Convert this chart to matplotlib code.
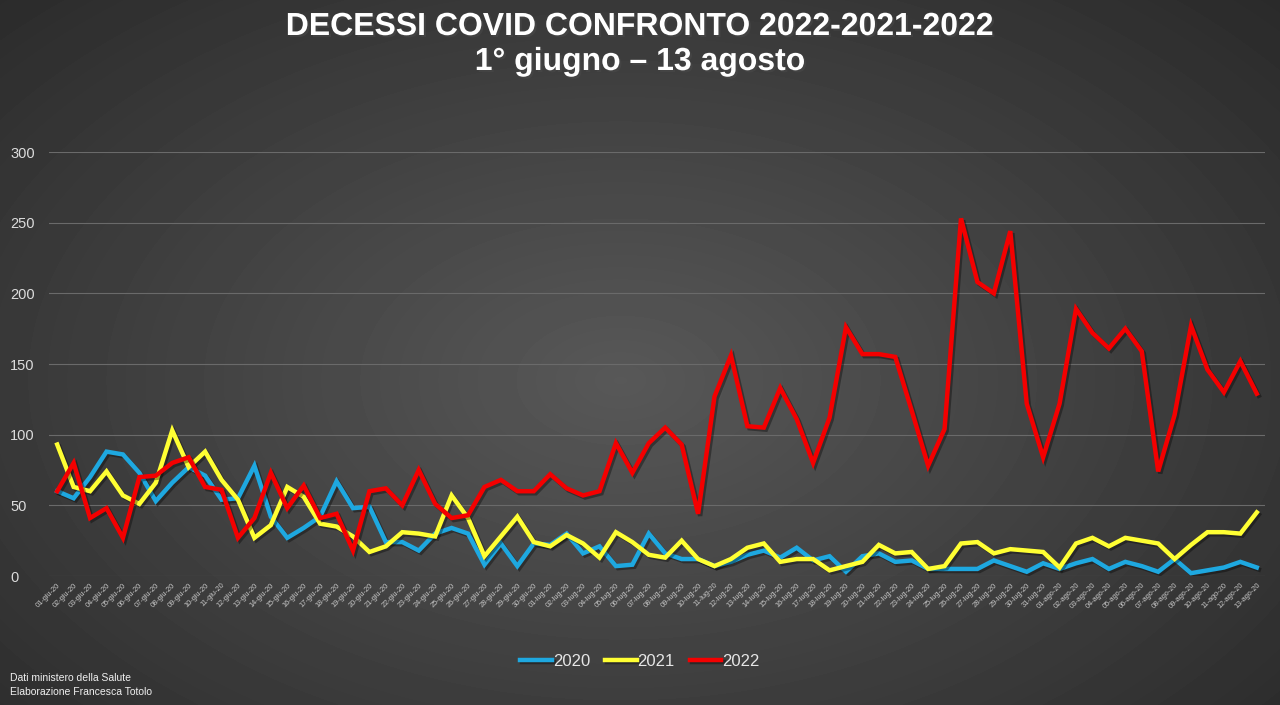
import matplotlib.pyplot as plt
import matplotlib.patheffects as pe
import numpy as np
import pandas as pd

# decessi giornalieri 1 giugno - 13 agosto
morti_2020 = [60, 55, 70, 88, 86, 73, 53, 66, 77, 71, 54, 55, 78, 42, 27, 34, 42, 67, 48, 49,
              24, 24, 18, 30, 34, 30, 8, 23, 7, 23, 22, 30, 16, 21, 7, 8, 30, 16, 12, 12,
              7, 10, 15, 18, 13, 20, 11, 14, 3, 14, 16, 10, 11, 5, 5, 5, 5, 11, 7, 3,
              9, 5, 9, 12, 5, 10, 7, 3, 12, 2, 4, 6, 10, 6]
morti_2021 = [93, 63, 60, 74, 57, 51, 66, 103, 77, 88, 68, 54, 27, 36, 63, 56, 37, 35, 28, 17,
              21, 31, 30, 28, 57, 41, 14, 28, 42, 24, 21, 29, 23, 13, 31, 24, 15, 13, 25, 12,
              7, 12, 20, 23, 10, 12, 12, 4, 7, 10, 22, 16, 17, 5, 7, 23, 24, 16, 19, 18,
              17, 6, 23, 27, 21, 27, 25, 23, 12, 22, 31, 31, 30, 45]
morti_2022 = [60, 80, 41, 48, 27, 70, 71, 80, 84, 63, 61, 27, 41, 73, 48, 64, 41, 44, 18, 60,
              62, 50, 75, 51, 41, 43, 63, 68, 60, 60, 72, 62, 57, 60, 94, 73, 94, 105, 93, 44,
              127, 156, 106, 105, 133, 111, 80, 112, 176, 157, 157, 155, 117, 78, 104, 253, 208, 200, 244, 122,
              84, 122, 189, 172, 161, 175, 159, 74, 114, 177, 146, 130, 152, 129]

mesi = {6: 'giu', 7: 'lug', 8: 'ago'}
giorni = pd.date_range('2020-06-01', '2020-08-13')
etichette = [f"{d.day:02d}-{mesi[d.month]}-20" for d in giorni]

serie = [('2020', morti_2020, '#1ea8e0'),
         ('2021', morti_2021, '#ffff33'),
         ('2022', morti_2022, '#f40000')]

plt.rcParams['font.family'] = ['Liberation Sans', 'DejaVu Sans']

fig = plt.figure(figsize=(12.8, 7.05), dpi=100)

# sfondo grigio sfumato
bg = fig.add_axes([0, 0, 1, 1])
yy, xx = np.mgrid[0:705, 0:1280]
r = np.sqrt(((xx - 620) / 900.0) ** 2 + ((yy - 380) / 560.0) ** 2)
grigio = np.clip(0.345 - 0.18 * r, 0.16, 0.345)
bg.imshow(grigio, cmap='gray', vmin=0, vmax=1, aspect='auto', interpolation='bilinear')
bg.axis('off')

ax = fig.add_axes([49 / 1280, 129 / 705, 1216 / 1280, 424 / 705])
ax.patch.set_alpha(0)
x = np.arange(len(etichette))

ombra = [pe.SimpleLineShadow(offset=(1.5, -1.5), shadow_color='black', alpha=0.35), pe.Normal()]
for nome, valori, colore in serie:
    ax.plot(x, valori, color=colore, lw=3.2, label=nome, solid_joinstyle='miter',
            path_effects=ombra)

ax.set_xlim(-0.5, len(etichette) - 0.5)
ax.set_ylim(0, 300)
ax.set_yticks(range(0, 301, 50))
ax.grid(axis='y', color='#6a6a6a', lw=0.8)
ax.set_axisbelow(True)
for s in ax.spines.values():
    s.set_visible(False)

ax.set_xticks(x)
ax.set_xticklabels(etichette, rotation=45, ha='right', rotation_mode='anchor',
                   fontsize=5.3, color='#c8c8c8')
ax.tick_params(axis='x', length=0, pad=4)
ax.tick_params(axis='y', length=0, pad=28, labelsize=10.5, labelcolor='#dcdcdc')
for lab in ax.get_yticklabels():
    lab.set_horizontalalignment('left')

# titolo con leggera ombra
titolo = [('DECESSI COVID CONFRONTO 2022-2021-2022', 1 - 27 / 705),
          ('1° giugno – 13 agosto', 1 - 62 / 705)]
for testo, yt in titolo:
    t = fig.text(0.5, yt, testo, ha='center', va='center',
                 fontsize=23, fontweight='bold', color='white')
    t.set_path_effects([pe.SimplePatchShadow(offset=(1.5, -1.5), alpha=0.45), pe.Normal()])

leg = fig.legend(loc='center', bbox_to_anchor=(0.5, 1 - 661 / 705), ncol=3, frameon=False,
                 fontsize=12, handlelength=1.9, columnspacing=0.9, handletextpad=0.05)
for t in leg.get_texts():
    t.set_color('#e6e6e6')

fig.text(10 / 1280, 1 - 678 / 705, 'Dati ministero della Salute', fontsize=7.5,
         color='#f0f0f0', va='center')
fig.text(10 / 1280, 1 - 692 / 705, 'Elaborazione Francesca Totolo', fontsize=7.5,
         color='#f0f0f0', va='center')

fig.savefig('out.png', dpi=100)
